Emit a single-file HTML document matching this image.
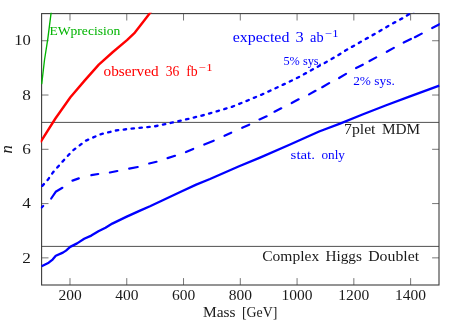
<!DOCTYPE html>
<html><head><meta charset="utf-8"><title>plot</title>
<style>
html,body{margin:0;padding:0;background:#fff;}
svg{display:block;}
text{font-family:"Liberation Serif",serif;}
</style></head>
<body>
<svg width="459" height="325" viewBox="0 0 459 325">
<defs><filter id="id" x="0" y="0" width="459" height="325" filterUnits="userSpaceOnUse" color-interpolation-filters="sRGB"><feOffset dx="0" dy="0"/></filter><clipPath id="c"><rect x="40.7" y="12.799999999999999" width="399.0" height="273.0"/></clipPath></defs>
<rect width="459" height="325" fill="#fff"/>
<g fill="none" stroke="#3c3c3c" stroke-width="1">
<path d="M41.6,122.4 H439.0 M41.6,246.4 H439.0" stroke-width="0.9"/>
<path d="M69.99,285.00 v-6.9 M69.99,13.60 v6.9 M126.76,285.00 v-6.9 M126.76,13.60 v6.9 M183.53,285.00 v-6.9 M183.53,13.60 v6.9 M240.30,285.00 v-6.9 M240.30,13.60 v6.9 M297.07,285.00 v-6.9 M297.07,13.60 v6.9 M353.84,285.00 v-6.9 M353.84,13.60 v6.9 M410.61,285.00 v-6.9 M410.61,13.60 v6.9 M41.60,257.86 h6.9 M439.00,257.86 h-6.9 M41.60,203.58 h6.9 M439.00,203.58 h-6.9 M41.60,149.30 h6.9 M439.00,149.30 h-6.9 M41.60,95.02 h6.9 M439.00,95.02 h-6.9 M41.60,40.74 h6.9 M439.00,40.74 h-6.9" stroke-width="0.7"/>
</g>
<rect x="41.6" y="13.6" width="397.4" height="271.4" fill="none" stroke="#3c3c3c" stroke-width="1.1"/>
<g clip-path="url(#c)" fill="none" stroke-linejoin="round">
<path d="M41.7,84.2 L44.5,60.0 L47.8,38.8 L51.0,13.6 L52.0,6.0" stroke="#00b400" stroke-width="1.35"/>
<path d="M40.4,142.3 L41.6,140.4 L55.4,118.5 L70.4,97.3 L84.8,80.4 L98.8,64.6 L112.9,52.0 L127.0,40.2 L134.9,32.6 L141.7,23.7 L150.0,13.1 L155.9,5.5" stroke="#f00" stroke-width="2.4"/>
<path d="M41.6,266.2 L48.7,262.7 L52.6,259.6 L55.8,255.8 L62.9,252.6 L66.0,250.6 L70.2,246.9 L77.1,243.4 L84.2,238.8 L91.3,235.6 L98.4,231.3 L105.5,227.7 L112.3,223.6 L126.2,216.9 L140.0,210.6 L150.0,206.2 L165.4,199.0 L180.8,191.7 L196.2,184.6 L210.0,179.0 L239.1,166.3 L260.0,157.6 L289.5,144.8 L319.1,131.5 L340.0,123.6 L363.1,114.3 L386.2,105.3 L409.3,96.6 L439.3,85.7" stroke="#00f" stroke-width="2.3"/>
<path d="M41.6,186.6 L47.8,179.8 L53.1,172.2 L63.5,160.5 L72.7,150.6 L85.8,140.7 L100.1,134.4 L115.8,130.5 L131.5,128.6 L153.9,126.5 L176.1,121.8 L202.2,115.5 L218.4,110.8 L232.8,106.5 L246.9,100.8 L262.3,94.3 L270.0,90.8 L285.0,83.8 L299.2,76.9 L313.1,69.2 L323.8,63.4 L338.5,55.0 L345.4,50.6 L360.8,41.8 L376.2,33.1 L389.2,25.4 L403.5,17.7 L410.4,13.4 L420.0,7.5" stroke="#00f" stroke-width="2.35" stroke-linecap="round" stroke-dasharray="2.4 5.51" stroke-dashoffset="-1"/>
<path d="M41.6,207.5 L43.2,206.0 M51.2,198.5 L55.7,191.8 L62.4,187.8" stroke="#00f" stroke-width="2.2" stroke-linecap="round"/>
<path d="M72.5,180.6 L78.8,178.4 M91.4,175.2 L98.2,174.0 M109.9,172.5 L117.3,171.0 M129.2,168.6 L137.7,167.0 M149.2,163.5 L156.5,161.8 M167.6,158.1 L175.0,155.8 M186.0,152.0 L193.2,148.9 M204.3,144.5 L213.7,140.7 M224.5,135.8 L231.2,132.7 M242.2,127.8 L249.2,124.7 M259.5,119.4 L266.6,116.3 M274.5,111.7 L281.2,108.3 M291.7,103.0 L298.6,99.3 M309.1,94.4 L315.5,90.8 M322.2,87.2 L329.1,83.1 M339.1,78.0 L346.0,73.9 M356.1,68.0 L362.8,64.7 M369.5,61.0 L376.2,57.4 M386.8,51.8 L393.8,47.9 M403.7,42.6 L410.9,39.0 M414.9,37.2 L421.7,33.6 M432.2,28.0 L440.5,23.8" stroke="#00f" stroke-width="2.2" stroke-linecap="round"/>
</g>
<g filter="url(#id)">
<g font-size="15.5px" fill="#1a1a1a">
<text x="70.0" y="300.2" text-anchor="middle">200</text><text x="126.8" y="300.2" text-anchor="middle">400</text><text x="183.5" y="300.2" text-anchor="middle">600</text><text x="240.3" y="300.2" text-anchor="middle">800</text><text x="297.1" y="300.2" text-anchor="middle">1000</text><text x="353.8" y="300.2" text-anchor="middle">1200</text><text x="410.6" y="300.2" text-anchor="middle">1400</text>
<text x="22.3" y="262.5" textLength="8.6" lengthAdjust="spacingAndGlyphs">2</text><text x="22.3" y="208.2" textLength="8.6" lengthAdjust="spacingAndGlyphs">4</text><text x="22.3" y="153.9" textLength="8.6" lengthAdjust="spacingAndGlyphs">6</text><text x="22.3" y="99.6" textLength="8.6" lengthAdjust="spacingAndGlyphs">8</text><text x="14.3" y="45.3" textLength="16.6" lengthAdjust="spacingAndGlyphs">10</text>
<text x="203.0" y="316.6" textLength="32.6" lengthAdjust="spacingAndGlyphs">Mass</text><text x="242.0" y="316.6" textLength="35.4" lengthAdjust="spacingAndGlyphs">[GeV]</text>
<text transform="translate(11.9,149.3) rotate(-90)" text-anchor="middle" font-style="italic" font-size="16.5px">n</text>
<text x="344.0" y="134.4" textLength="31.5" lengthAdjust="spacingAndGlyphs">7plet</text><text x="382.0" y="134.4" textLength="38.2" lengthAdjust="spacingAndGlyphs">MDM</text>
<text x="262.2" y="260.6" textLength="57" lengthAdjust="spacingAndGlyphs">Complex</text><text x="325.4" y="260.6" textLength="36.6" lengthAdjust="spacingAndGlyphs">Higgs</text><text x="368.2" y="260.6" textLength="51" lengthAdjust="spacingAndGlyphs">Doublet</text>
</g>
<text x="49.4" y="34.5" font-size="13px" fill="#00b400" textLength="71" lengthAdjust="spacingAndGlyphs">EWprecision</text>
<g font-size="15.6px" fill="#f00" lengthAdjust="spacingAndGlyphs">
<text x="103.5" y="75.5" textLength="55.2" lengthAdjust="spacingAndGlyphs">observed</text>
<text x="165.8" y="75.5" textLength="13.6" lengthAdjust="spacingAndGlyphs">36</text>
<text x="186.2" y="75.5" textLength="11.5" lengthAdjust="spacingAndGlyphs">fb</text>
<text x="199.0" y="70.6" font-size="10.5px" textLength="13.6" lengthAdjust="spacingAndGlyphs">−1</text>
</g>
<g font-size="15.6px" fill="#00f">
<text x="232.7" y="42.1" textLength="56.7" lengthAdjust="spacingAndGlyphs">expected</text>
<text x="295.6" y="42.1" textLength="8.2" lengthAdjust="spacingAndGlyphs">3</text>
<text x="310.1" y="42.1" textLength="13.5" lengthAdjust="spacingAndGlyphs">ab</text>
<text x="325.2" y="37.2" font-size="10.5px" textLength="13.4" lengthAdjust="spacingAndGlyphs">−1</text>
</g>
<g font-size="13.2px" fill="#00f">
<text x="283.4" y="64.8" textLength="38.3" lengthAdjust="spacingAndGlyphs">5% sys.</text>
<text x="353.2" y="85.2" textLength="41.6" lengthAdjust="spacingAndGlyphs">2% sys.</text>
<text x="290.6" y="158.8" textLength="24.4" lengthAdjust="spacingAndGlyphs">stat.</text><text x="321.4" y="158.8" textLength="23.6" lengthAdjust="spacingAndGlyphs">only</text>
</g>
</g>
</svg>
</body></html>
